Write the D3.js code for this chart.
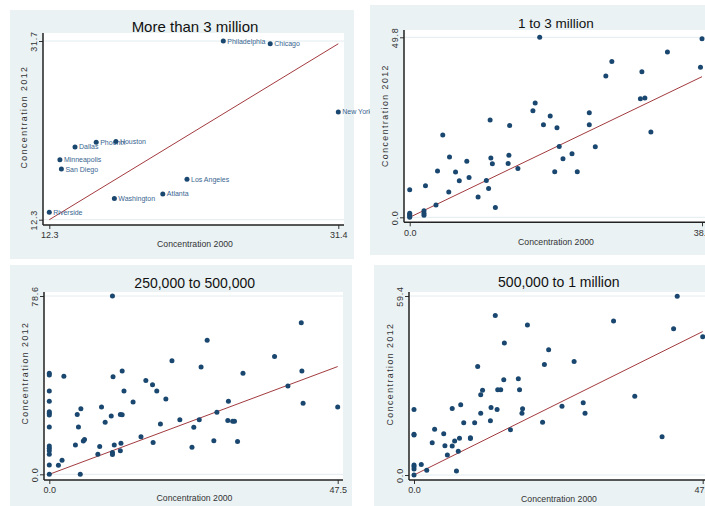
<!DOCTYPE html>
<html lang="en">
<head>
<meta charset="UTF-8">
<title>Concentration 2000 vs 2012</title>
<script src="https://cdnjs.cloudflare.com/ajax/libs/d3/7.8.5/d3.min.js"></script>
<style>
    body { margin: 0; background: #fff; font-family: "Liberation Sans", Arial, sans-serif; }
    svg { display: block; }
    .title { fill: #111; text-anchor: middle; }
    .axis-title { fill: #333; font-size: 8.7px; text-anchor: middle; }
    .tick text { fill: #333; font-size: 9px; font-family: "Liberation Sans", Arial, sans-serif; }
    .tick line { stroke: #333; }
    .city { fill: #3a6590; font-size: 7px; }
</style>
</head>
<body>
<svg id="chart" width="705" height="506"></svg>
<script>
// More than 3 million (labelled)
const bigNames = ["Philadelphia", "Chicago", "New York", "Dallas", "Phoenix", "Houston",
    "Minneapolis", "San Diego", "Los Angeles", "Atlanta", "Washington", "Riverside"];
const big2000 = [23.8, 26.9, 31.4, 14.0, 15.4, 16.7, 13.0, 13.1, 21.4, 19.8, 16.6, 12.3];
const big2012 = [31.7, 31.4, 24.0, 20.2, 20.7, 20.8, 18.8, 17.8, 16.7, 15.1, 14.6, 13.1];

// 1 to 3 million
const mid2000 = [0, 0, 0, 0, 0, 1.9, 1.9, 1.9, 2.1, 3.5, 3.7, 4.4, 5.2, 5.3, 6.1, 6.6, 7.6, 7.9,
    9.1, 10.2, 10.5, 10.7, 10.8, 11.0, 11.4, 13.1, 13.2, 13.3, 14.4, 16.4, 16.7, 17.3, 17.8,
    18.7, 19.3, 19.6, 19.9, 20.4, 21.6, 22.3, 23.9, 23.9, 24.7, 26.1, 26.9, 30.7, 30.9, 31.3,
    32.1, 34.3, 38.7, 38.9];
const mid2012 = [7.6, 1.1, 0.7, 0.4, 0, 1.8, 1.1, 0.6, 8.7, 3.4, 12.8, 22.8, 7.0, 16.7, 12.5,
    10.1, 15.5, 11.0, 5.6, 10.2, 8.0, 26.9, 16.4, 14.8, 2.7, 14.9, 17.2, 25.4, 13.5, 29.5, 31.6,
    49.8, 25.6, 28.0, 12.6, 24.8, 19.6, 16.2, 17.6, 12.6, 28.9, 25.6, 19.5, 39.1, 43.1, 32.8,
    40.3, 33.0, 23.6, 45.7, 41.5, 49.4];

// 250,000 to 500,000
const small2000 = [0, 0, 0, 0, 0, 0, 0, 0, 0, 0, 0, 0, 0, 0,
    1.5, 2.1, 2.4, 4.3, 4.6, 4.8, 5.1, 5.2, 5.6, 5.8, 8.0, 8.3, 8.6, 9.2, 10.2, 10.4, 10.5,
    10.4, 10.4, 10.7, 11.7, 11.8, 11.7, 12.0, 12.0, 12.3, 13.8, 15.1, 15.9, 17.0, 17.1, 17.7,
    18.3, 19.2, 20.2, 21.5, 23.5, 23.8, 24.7, 25.0, 26.0, 27.1, 27.6, 29.4, 29.5, 30.2, 30.5,
    31.0, 31.9, 37.1, 39.3, 41.5, 41.6, 41.8, 47.5];
const small2012 = [44.5, 43.8, 36.7, 32.2, 27.6, 26.9, 26.1, 20.9, 12.5, 11.5, 10.4, 8.8, 4.1, 0,
    4.0, 6.2, 43.2, 12.9, 26.4, 20.9, 0, 28.9, 14.7, 15.3, 8.8, 12.2, 29.7, 22.9, 25.7, 78.6, 43.0,
    9.6, 8.7, 12.9, 10.4, 13.7, 26.4, 26.3, 45.5, 36.7, 31.9, 16.5, 41.3, 39.5, 14.0, 36.7,
    22.2, 33.2, 50.1, 24.1, 11.9, 20.7, 24.0, 47.3, 59.1, 14.8, 27.3, 23.7, 32.2, 23.4, 23.4,
    14.5, 44.5, 51.9, 38.9, 66.8, 45.5, 31.3, 29.7];

// 500,000 to 1 million
const med2000 = [0, 0, 0, 0, 0, 0, 0, 1.2, 2.1, 3.0, 3.4, 4.9, 5.1, 5.5, 6.3, 6.3, 6.7, 7.0,
    7.3, 7.5, 7.7, 8.2, 9.3, 9.3, 10.0, 10.5, 11.0, 11.0, 11.3, 12.6, 12.7, 13.4, 13.7, 13.8,
    14.3, 14.8, 14.9, 15.9, 17.2, 17.4, 17.9, 17.8, 18.7, 21.2, 21.5, 22.2, 24.4, 26.4, 27.9,
    28.2, 32.9, 36.4, 40.9, 42.8, 43.4, 47.6];
const med2012 = [21.7, 13.5, 13.3, 3.3, 2.8, 2.0, 0, 3.5, 1.6, 10.7, 15.2, 13.7, 9.7, 6.6,
    22.1, 9.6, 11.3, 1.3, 7.9, 12.2, 23.3, 17.3, 12.1, 12.4, 17.3, 36.0, 20.5, 26.6, 28.1,
    18.0, 22.4, 52.9, 21.7, 28.3, 28.3, 31.6, 43.8, 15.0, 31.9, 28.3, 22.0, 20.5, 49.8, 17.5,
    36.7, 41.6, 22.8, 37.7, 24.0, 20.5, 51.1, 26.1, 12.7, 48.5, 59.3, 45.9];

// axis ranges (min / max ticks)
const bigX = [12.3, 31.4], bigY = [12.3, 31.7];
const midX = [0, 38.9], midY = [0, 49.8];
const smallX = [0, 47.5], smallY = [0, 78.6];
const medX = [0, 47.6], medY = [0, 59.4];

const titles = ["More than 3 million", "1 to 3 million", "250,000 to 500,000", "500,000 to 1 million"];
const xTitle = "Concentration 2000";
const yTitle = "Concentration 2012";

const panels = [
    { title: titles[0], xs: big2000, ys: big2012, names: bigNames, xd: bigX, yd: bigY,
      bg: [10, 10, 354, 259], plot: [43, 33, 344, 225], xr: [49.3, 338.3], yr: [219.7, 41],
      tt: [195, 31.5, 15], xt: [195, 246.5], yt: [27, 117] },
    { title: titles[1], xs: mid2000, ys: mid2012, xd: midX, yd: midY,
      bg: [370, 5, 720, 255], plot: [404, 30, 720, 222.3], xr: [409.7, 702], yr: [217.3, 37.3],
      tt: [556, 28, 13.5], xt: [556, 245], yt: [388, 115.5] },
    { title: titles[2], xs: small2000, ys: small2012, xd: smallX, yd: smallY,
      bg: [10, 265, 352, 506], plot: [44, 292, 343, 480], xr: [49.3, 337.7], yr: [474.3, 296],
      tt: [194.7, 287.7, 14], xt: [194.5, 500.7], yt: [28, 373] },
    { title: titles[3], xs: med2000, ys: med2012, xd: medX, yd: medY,
      bg: [374, 265, 720, 506], plot: [409, 292, 720, 480], xr: [414, 702.7], yr: [475, 296],
      tt: [558.8, 287, 14], xt: [559, 501.7], yt: [393, 374] }
];

const svg = d3.select("#chart");
const fmt = d3.format(".1f");

panels.forEach(p => {
    const g = svg.append("g");
    const x = d3.scaleLinear().domain(p.xd).range(p.xr);
    const y = d3.scaleLinear().domain(p.yd).range(p.yr);
    const [bx0, by0, bx1, by1] = p.bg;
    const [px0, py0, px1, py1] = p.plot;

    g.append("rect").attr("x", bx0).attr("y", by0).attr("width", bx1 - bx0).attr("height", by1 - by0)
        .attr("fill", "#eaf2f3");
    g.append("rect").attr("x", px0).attr("y", py0).attr("width", px1 - px0).attr("height", py1 - py0)
        .attr("fill", "#fff");

    // light grid at the y ticks
    g.selectAll(".grid").data(p.yd).join("line")
        .attr("x1", px0).attr("x2", px1)
        .attr("y1", d => y(d)).attr("y2", d => y(d))
        .attr("stroke", "#e3ecef").attr("stroke-width", 1);

    // 45 degree line
    g.append("line")
        .attr("x1", x(p.xd[0])).attr("y1", y(p.xd[0]))
        .attr("x2", x(p.xd[1])).attr("y2", y(p.xd[1]))
        .attr("stroke", "#a23a3f").attr("stroke-width", 1);

    p.xs.forEach((v, i) => {
        g.append("circle").attr("cx", x(v)).attr("cy", y(p.ys[i])).attr("r", 2.5)
            .attr("fill", "#1a476f");
        if (p.names) {
            g.append("text").attr("class", "city")
                .attr("x", x(v) + 4).attr("y", y(p.ys[i]) + 2.5)
                .text(p.names[i]);
        }
    });

    // axes
    const ax = g.append("g").attr("transform", `translate(0,${py1})`)
        .call(d3.axisBottom(x).tickValues(p.xd).tickFormat(fmt).tickSize(4).tickPadding(3));
    ax.select(".domain").remove();
    const ay = g.append("g").attr("transform", `translate(${px0},0)`)
        .call(d3.axisLeft(y).tickValues(p.yd).tickFormat(fmt).tickSize(4));
    ay.select(".domain").remove();
    ay.selectAll(".tick text")
        .attr("x", null).attr("dy", null)
        .attr("transform", "translate(-6,0) rotate(-90)")
        .attr("text-anchor", "middle")
        .style("letter-spacing", "0.8px");

    g.append("line").attr("x1", px0).attr("x2", px1).attr("y1", py1).attr("y2", py1)
        .attr("stroke", "#222").attr("stroke-width", 1.5);
    g.append("line").attr("x1", px0).attr("x2", px0).attr("y1", py0).attr("y2", py1)
        .attr("stroke", "#222").attr("stroke-width", 1.5);

    g.append("text").attr("class", "title")
        .attr("x", p.tt[0]).attr("y", p.tt[1]).style("font-size", p.tt[2] + "px")
        .text(p.title);
    g.append("text").attr("class", "axis-title")
        .attr("x", p.xt[0]).attr("y", p.xt[1]).text(xTitle);
    g.append("text").attr("class", "axis-title")
        .attr("transform", `translate(${p.yt[0]},${p.yt[1]}) rotate(-90)`)
        .style("letter-spacing", "1.5px")
        .text(yTitle);
});
</script>
</body>
</html>
